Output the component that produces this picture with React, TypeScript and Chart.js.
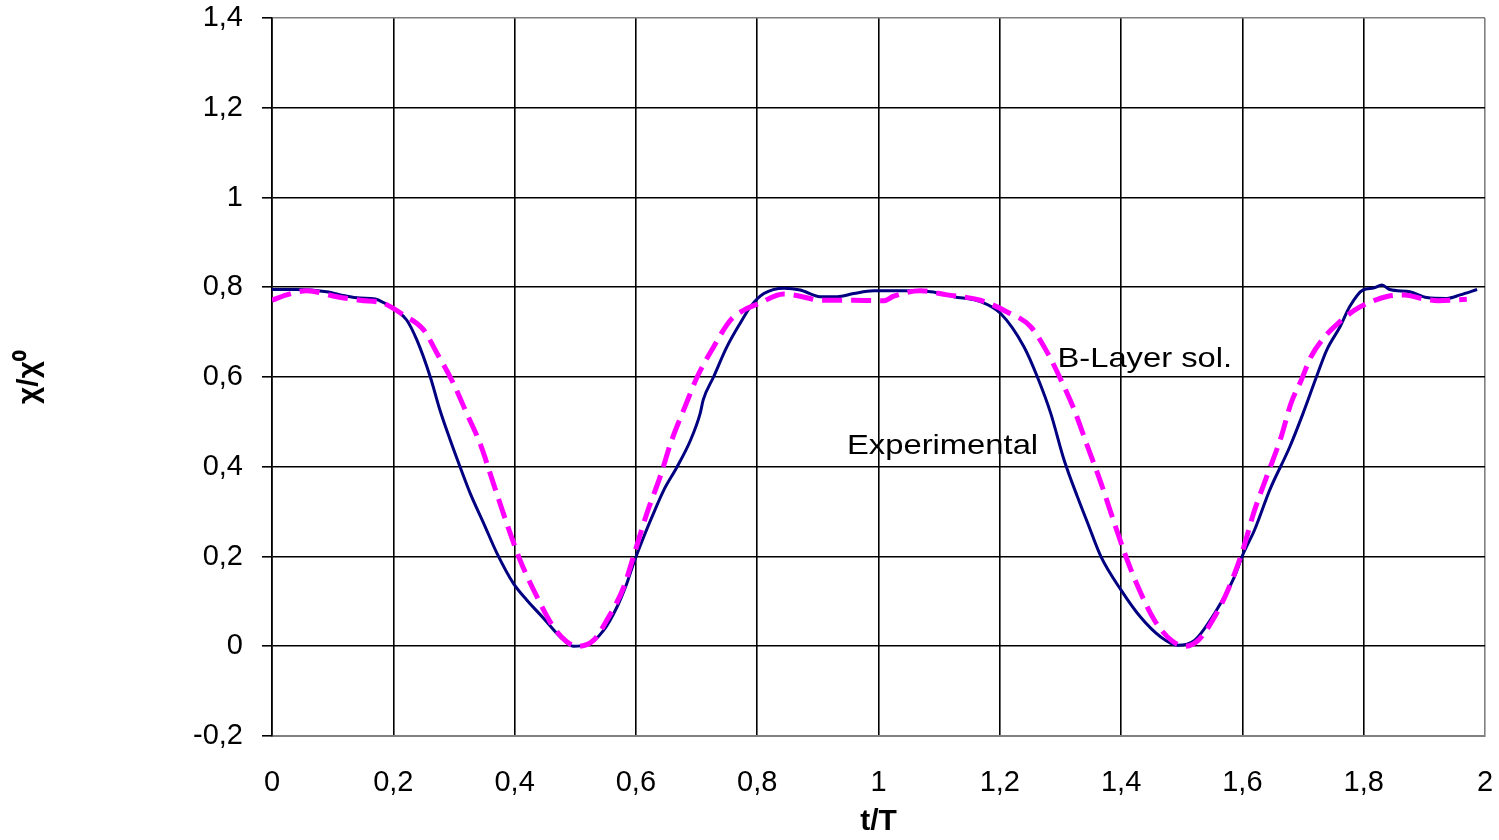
import React, { useEffect, useRef } from "react";
import { Chart, registerables } from "chart.js";

Chart.register(...registerables);

// ---------- data ----------
const expT = [
  0.0, 0.04, 0.09, 0.12, 0.145, 0.17, 0.189, 0.205, 0.222, 0.239, 0.261, 0.277, 0.294, 0.31, 0.327, 0.349,
  0.371, 0.398, 0.42, 0.448, 0.475, 0.497, 0.519, 0.547, 0.569, 0.585, 0.596, 0.613, 0.629, 0.646, 0.668,
  0.69, 0.706, 0.711, 0.728, 0.75, 0.772, 0.789, 0.811, 0.844, 0.871, 0.904, 0.932, 0.959, 0.992, 1.042,
  1.086, 1.124, 1.168, 1.201, 1.24, 1.262, 1.284, 1.306, 1.328, 1.345, 1.367, 1.4, 1.432, 1.465, 1.493,
  1.521, 1.554, 1.587, 1.601, 1.62, 1.645, 1.678, 1.7, 1.722, 1.739, 1.761, 1.777, 1.799, 1.816, 1.83,
  1.843, 1.876, 1.904, 1.937, 1.959, 1.987,
];
const expY = [
  0.795, 0.795, 0.79, 0.781, 0.776, 0.774, 0.762, 0.748, 0.727, 0.682, 0.6, 0.526, 0.459, 0.4, 0.34, 0.274,
  0.207, 0.14, 0.103, 0.062, 0.021, 0.0, 0.003, 0.036, 0.088, 0.14, 0.184, 0.244, 0.296, 0.348, 0.4,
  0.459, 0.519, 0.549, 0.6, 0.667, 0.72, 0.757, 0.786, 0.798, 0.794, 0.779, 0.779, 0.786, 0.792, 0.792,
  0.79, 0.779, 0.768, 0.742, 0.667, 0.6, 0.519, 0.415, 0.333, 0.274, 0.199, 0.125, 0.065, 0.021, 0.002,
  0.013, 0.073, 0.155, 0.205, 0.259, 0.348, 0.444, 0.519, 0.6, 0.66, 0.712, 0.757, 0.794, 0.798, 0.805,
  0.795, 0.79, 0.777, 0.775, 0.783, 0.795,
];

const layerT = [
  0.0, 0.024, 0.057, 0.107, 0.145, 0.184, 0.217, 0.25, 0.272, 0.299, 0.321, 0.343, 0.365, 0.387, 0.409,
  0.437, 0.464, 0.486, 0.503, 0.53, 0.552, 0.58, 0.596, 0.618, 0.64, 0.659, 0.681, 0.701, 0.728, 0.756,
  0.778, 0.8, 0.844, 0.871, 0.904, 0.959, 1.009, 1.025, 1.069, 1.113, 1.168, 1.212, 1.251, 1.279, 1.301,
  1.323, 1.345, 1.367, 1.389, 1.406, 1.428, 1.455, 1.483, 1.505, 1.527, 1.554, 1.576, 1.599, 1.62, 1.642,
  1.664, 1.68, 1.697, 1.713, 1.736, 1.758, 1.785, 1.813, 1.84, 1.868, 1.895, 1.923, 1.97,
];
const layerY = [
  0.771, 0.783, 0.792, 0.779, 0.771, 0.764, 0.738, 0.705, 0.653, 0.586, 0.519, 0.452, 0.363, 0.274, 0.192,
  0.11, 0.043, 0.01, 0.0, 0.013, 0.058, 0.132, 0.2, 0.296, 0.378, 0.459, 0.534, 0.6, 0.667, 0.727,
  0.749, 0.762, 0.785, 0.78, 0.771, 0.771, 0.77, 0.78, 0.792, 0.783, 0.771, 0.745, 0.712, 0.653, 0.593,
  0.526, 0.444, 0.363, 0.274, 0.207, 0.132, 0.058, 0.013, 0.0, 0.013, 0.065, 0.125, 0.207, 0.303, 0.385,
  0.467, 0.541, 0.593, 0.645, 0.69, 0.72, 0.749, 0.768, 0.78, 0.783, 0.775, 0.77, 0.773,
];

const xTickValues = [0, 0.2, 0.4, 0.6, 0.8, 1, 1.2, 1.4, 1.6, 1.8, 2];
const xTickLabels = ["0", "0,2", "0,4", "0,6", "0,8", "1", "1,2", "1,4", "1,6", "1,8", "2"];
const yTickValues = [-0.2, 0, 0.2, 0.4, 0.6, 0.8, 1, 1.2, 1.4];
const yTickLabels = ["-0,2", "0", "0,2", "0,4", "0,6", "0,8", "1", "1,2", "1,4"];

const seriesNames = ["Experimental", "B-Layer sol."];
const xTitle = "t/T";
const yTitle = "χ/χ⁰";

// label anchor points (data coordinates, left/baseline of text)
const labelAnchorX = [0.948, 1.295];
const labelAnchorY = [0.428, 0.623];

const FONT = '"Liberation Sans", Arial, Helvetica, sans-serif';
const GRAY = "#808080";

const labelPlugin = {
  id: "curveLabels",
  afterDatasetsDraw(chart: any) {
    const { ctx } = chart;
    const xs = chart.scales.x;
    const ys = chart.scales.y;
    ctx.save();
    ctx.font = `28px ${FONT}`;
    ctx.fillStyle = "#000";
    ctx.textBaseline = "alphabetic";
    ctx.textAlign = "left";
    seriesNames.forEach((name, i) => {
      ctx.save();
      ctx.translate(xs.getPixelForValue(labelAnchorX[i]), ys.getPixelForValue(labelAnchorY[i]));
      ctx.scale(1.17, 1);
      ctx.fillText(name, 0, 0);
      ctx.restore();
    });
    ctx.restore();
  },
};

export default function App() {
  const canvasRef = useRef<HTMLCanvasElement | null>(null);

  useEffect(() => {
    const canvas = canvasRef.current;
    if (!canvas) return;
    const chart = new Chart(canvas, {
      type: "line",
      data: {
        datasets: [
          {
            label: seriesNames[1],
            data: layerT.map((t, i) => ({ x: t, y: layerY[i] })),
            borderColor: "#FF00FF",
            borderWidth: 5,
            borderDash: [20, 9],
            pointRadius: 0,
            fill: false,
            cubicInterpolationMode: "monotone",
          },
          {
            label: seriesNames[0],
            data: expT.map((t, i) => ({ x: t, y: expY[i] })),
            borderColor: "#000080",
            borderWidth: 3,
            pointRadius: 0,
            fill: false,
            cubicInterpolationMode: "monotone",
          },
        ],
      },
      options: {
        responsive: false,
        animation: false,
        events: [],
        layout: { padding: { top: 18, right: 14, left: 0, bottom: 0 } },
        plugins: {
          legend: { display: false },
          tooltip: { enabled: false },
          title: { display: false },
        },
        scales: {
          x: {
            type: "linear",
            min: 0,
            max: 2,
            afterBuildTicks: (scale: any) => {
              scale.ticks = xTickValues.map((v) => ({ value: v }));
            },
            afterFit: (scale: any) => {
              scale.height = 104;
              scale.paddingLeft = 0;
              scale.paddingRight = 0;
              scale.paddingTop = 0;
              scale.paddingBottom = 0;
            },
            ticks: {
              autoSkip: false,
              maxRotation: 0,
              padding: 30,
              color: "#000",
              font: { family: FONT, size: 29 },
              callback: (_v: any, index: number) => xTickLabels[index],
            },
            grid: {
              drawTicks: false,
              lineWidth: 1.6,
              color: (ctx: any) => (ctx.tick && ctx.tick.value === 2 ? GRAY : "#000"),
            },
            border: { display: true, color: GRAY, width: 2 },
            title: {
              display: true,
              text: xTitle,
              color: "#000",
              font: { family: FONT, size: 30, weight: "bold" },
              padding: { top: 0, bottom: 0 },
            },
          },
          y: {
            type: "linear",
            min: -0.2,
            max: 1.4,
            afterBuildTicks: (scale: any) => {
              scale.ticks = yTickValues.map((v) => ({ value: v }));
            },
            afterFit: (scale: any) => {
              scale.width = 272;
              scale.paddingLeft = 0;
              scale.paddingRight = 0;
              scale.paddingTop = 0;
              scale.paddingBottom = 0;
            },
            ticks: {
              autoSkip: false,
              padding: 19,
              color: "#000",
              font: { family: FONT, size: 29 },
              callback: (_v: any, index: number) => yTickLabels[index],
            },
            grid: {
              drawTicks: true,
              tickLength: 10,
              tickColor: "#000",
              lineWidth: 1.6,
              color: (ctx: any) =>
                ctx.tick && (Math.abs(ctx.tick.value - 1.4) < 1e-9 || Math.abs(ctx.tick.value + 0.2) < 1e-9)
                  ? GRAY
                  : "#000",
            },
            border: { display: true, color: "#000", width: 1.6 },
            title: {
              display: true,
              text: yTitle,
              color: "#000",
              font: { family: FONT, size: 30, weight: "bold" },
              padding: { top: 12, bottom: 0 },
            },
          },
        },
      },
      plugins: [labelPlugin],
    } as any);
    return () => chart.destroy();
  }, []);

  return (
    <div style={{ position: "absolute", left: 0, top: 0, width: 1499, height: 840, background: "#fff" }}>
      <canvas ref={canvasRef} width={1499} height={840} style={{ width: 1499, height: 840, display: "block" }} />
    </div>
  );
}
